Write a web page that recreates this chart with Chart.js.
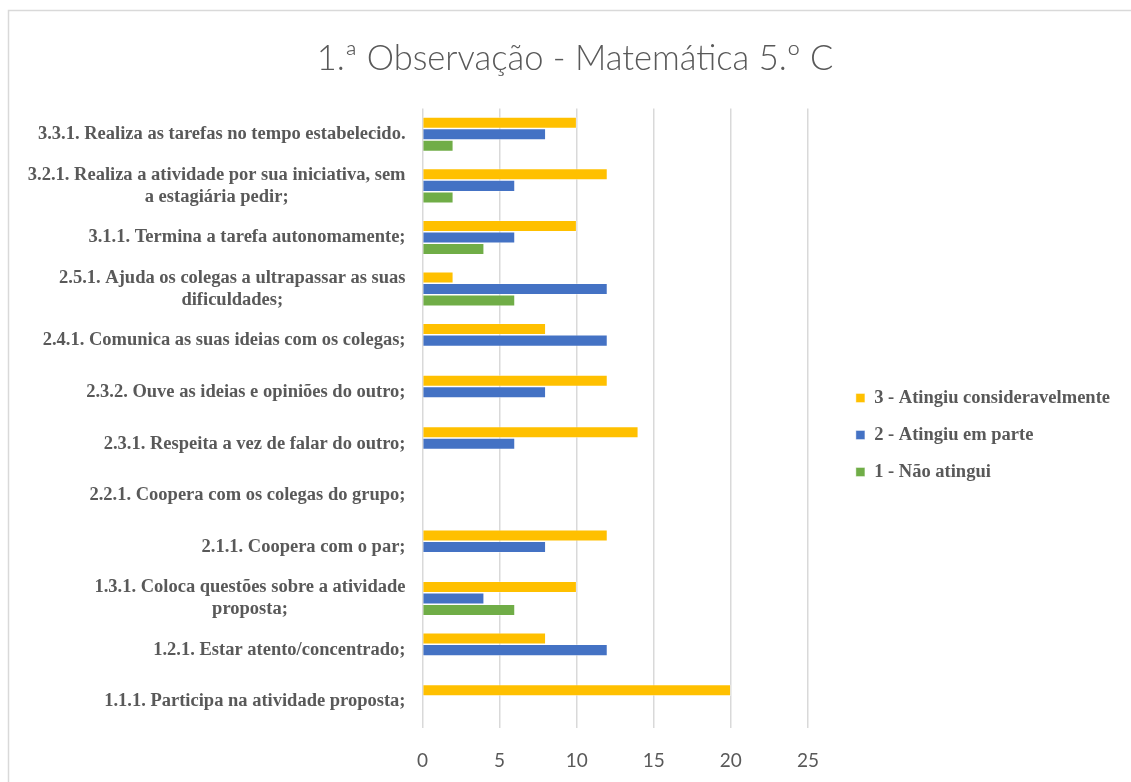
<!DOCTYPE html>
<html lang="pt">
<head>
<meta charset="utf-8">
<title>1.ª Observação - Matemática 5.º C</title>
<script src="https://cdn.jsdelivr.net/npm/chart.js@4.4.1/dist/chart.umd.min.js"></script>
<style>
  html, body { margin: 0; padding: 0; background: #ffffff; overflow: hidden; }
  #wrap { position: relative; width: 1131px; height: 782px; }
</style>
</head>
<body>
<div id="wrap"><canvas id="chart" width="1131" height="782"></canvas></div>
<script>
// Observation items (top to bottom)
const categories = [
  '3.3.1. Realiza as tarefas no tempo estabelecido.',
  ['3.2.1. Realiza a atividade por sua iniciativa, sem', 'a estagiária pedir;'],
  '3.1.1. Termina a tarefa autonomamente;',
  ['2.5.1. Ajuda os colegas a ultrapassar as suas', 'dificuldades;'],
  '2.4.1. Comunica as suas ideias com os colegas;',
  '2.3.2. Ouve as ideias e opiniões do outro;',
  '2.3.1. Respeita a vez de falar do outro;',
  '2.2.1. Coopera com os colegas do grupo;',
  '2.1.1. Coopera com o par;',
  ['1.3.1. Coloca questões sobre a atividade', 'proposta;'],
  '1.2.1. Estar atento/concentrado;',
  '1.1.1. Participa na atividade proposta;'
];

const seriesNames = ['3 - Atingiu consideravelmente', '2 - Atingiu em parte', '1 - Não atingui'];
const atingiuConsideravelmente = [10, 12, 10, 2, 8, 12, 14, 0, 12, 10, 8, 20];
const atingiuEmParte           = [8, 6, 6, 12, 12, 8, 6, 0, 8, 4, 12, 0];
const naoAtingiu               = [2, 2, 4, 6, 0, 0, 0, 0, 0, 6, 0, 0];
const xTicks = [0, 5, 10, 15, 20, 25];

const TEXT = '#595959';
const GRID = '#d9d9d9';
const SERIF_FAMILY = '"Liberation Serif", "Times New Roman", serif';
const SERIF_SIZE = 18.5;
const LABEL_LINE = 22;

// Frame and white background
const framePlugin = {
  id: 'frame',
  beforeDraw(chart) {
    const ctx = chart.ctx;
    ctx.save();
    ctx.fillStyle = '#ffffff';
    ctx.fillRect(0, 0, chart.width, chart.height);
    ctx.strokeStyle = GRID;
    ctx.lineWidth = 1.5;
    ctx.strokeRect(8.5, 10.5, chart.width + 40, chart.height + 40);
    ctx.restore();
  }
};

// Category labels: each label block is right-aligned, its lines centred
const categoryLabelPlugin = {
  id: 'categoryLabels',
  afterDraw(chart) {
    const s = chart.scales.y;
    const ctx = chart.ctx;
    ctx.save();
    ctx.font = 'bold ' + SERIF_SIZE + 'px ' + SERIF_FAMILY;
    ctx.fillStyle = TEXT;
    ctx.textAlign = 'center';
    ctx.textBaseline = 'middle';
    const rightEdge = s.right - 17;
    chart.data.labels.forEach((lab, i) => {
      const lines = Array.isArray(lab) ? lab : [lab];
      const w = Math.max(...lines.map(l => ctx.measureText(l).width));
      const cx = rightEdge - w / 2;
      const cy = s.getPixelForTick(i);
      lines.forEach((l, j) => {
        ctx.fillText(l, cx, cy + (j - (lines.length - 1) / 2) * LABEL_LINE);
      });
    });
    ctx.restore();
  }
};

new Chart(document.getElementById('chart'), {
  type: 'bar',
  data: {
    labels: categories,
    datasets: [
      { label: seriesNames[0], data: atingiuConsideravelmente, backgroundColor: '#FFC000' },
      { label: seriesNames[1], data: atingiuEmParte, backgroundColor: '#4472C4' },
      { label: seriesNames[2], data: naoAtingiu, backgroundColor: '#70AD47' }
    ]
  },
  options: {
    indexAxis: 'y',
    responsive: false,
    devicePixelRatio: 1,
    animation: false,
    datasets: {
      bar: {
        categoryPercentage: 0.67,
        barPercentage: 1.0,
        borderWidth: 0.75,
        borderColor: 'rgba(255,255,255,0.55)'
      }
    },
    layout: { padding: { left: 30, right: 11, top: 0, bottom: 11 } },
    plugins: {
      tooltip: { enabled: false },
      title: {
        display: true,
        text: '1.ª Observação - Matemática 5.º C',
        color: TEXT,
        font: { family: 'Lato, "Open Sans", sans-serif', size: 34.5, weight: '300' },
        padding: { top: 38.5, bottom: 28.6 }
      },
      legend: {
        position: 'right',
        maxWidth: 400,
        title: { display: true, text: '', font: { size: 10 }, padding: { top: 87, bottom: 0 } },
        labels: {
          boxWidth: 9,
          boxHeight: 9,
          padding: 18.5,
          color: TEXT,
          font: { family: SERIF_FAMILY, size: SERIF_SIZE, weight: 'bold' }
        }
      }
    },
    scales: {
      x: {
        min: 0,
        max: 25,
        afterBuildTicks(scale) { scale.ticks = xTicks.map(v => ({ value: v })); },
        afterFit(scale) { scale.height = 43.5; },
        grid: { color: GRID, lineWidth: 1.5, drawTicks: false },
        border: { display: false },
        ticks: {
          padding: 22,
          color: TEXT,
          font: { family: 'Lato, "Open Sans", sans-serif', size: 19 }
        }
      },
      y: {
        grid: { display: false, drawTicks: false },
        border: { display: false },
        ticks: { display: false },
        afterFit(scale) { scale.width = 392.5; }
      },
      gap: {
        type: 'linear',
        position: 'right',
        display: true,
        grid: { display: false, drawTicks: false },
        border: { display: false },
        ticks: { display: false },
        afterFit(scale) { scale.width = 29.5; }
      }
    }
  },
  plugins: [framePlugin, categoryLabelPlugin]
});
</script>
</body>
</html>
